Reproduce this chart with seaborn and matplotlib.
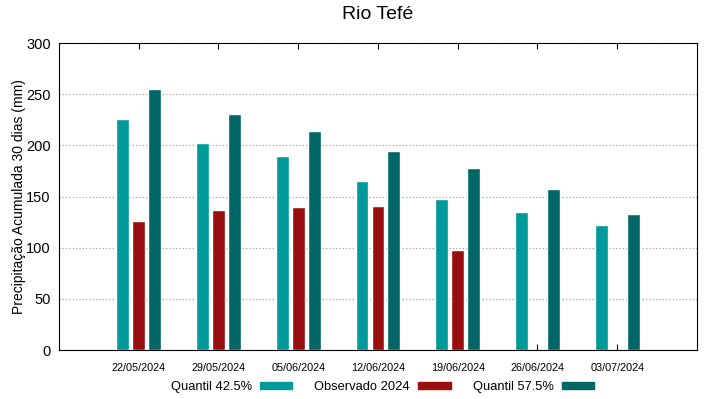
import numpy as np
import pandas as pd
import seaborn as sns
import matplotlib.pyplot as plt
from matplotlib.patches import Rectangle

datas = ['22/05/2024', '29/05/2024', '05/06/2024', '12/06/2024',
         '19/06/2024', '26/06/2024', '03/07/2024']
quantil_425 = [226, 202, 190, 165, 148, 135, 122]
observado_2024 = [126, 137, 140, 141, 98, np.nan, np.nan]
quantil_575 = [255, 231, 214, 194, 178, 157, 133]

series = ['Quantil 42.5%', 'Observado 2024', 'Quantil 57.5%']
cores = ['#009999', '#990f0f', '#006666']

df = pd.DataFrame({
    'data': datas * 3,
    'valor': quantil_425 + observado_2024 + quantil_575,
    'serie': [s for s in series for _ in datas],
})

sns.set_style('white')
plt.rcParams['font.family'] = ['Liberation Sans', 'DejaVu Sans']
plt.rcParams['text.color'] = 'black'
plt.rcParams['axes.labelcolor'] = 'black'
plt.rcParams['xtick.color'] = 'black'
plt.rcParams['ytick.color'] = 'black'

fig = plt.figure(figsize=(7.19, 3.99), dpi=100)
ax = fig.add_axes([0.082, 0.1228, 0.8874, 0.7694])

sns.barplot(data=df, x='data', y='valor', hue='serie', order=datas,
            hue_order=series, palette=cores, width=0.6, gap=0.19,
            saturation=1, ax=ax, legend=False)

ax.set_xlim(-1, 7)
ax.set_ylim(0, 300)
ax.set_yticks(range(0, 301, 50))
ax.yaxis.grid(True, linestyle=(0, (1, 2)), color='#999999', linewidth=0.8)
ax.set_axisbelow(True)
for s in ax.spines.values():
    s.set_color('black')
    s.set_linewidth(0.8)

ax.tick_params(axis='x', labelsize=7.8, direction='in', length=4, pad=9,
               top=True, bottom=True)
ax.tick_params(axis='y', labelsize=10.5, direction='in', length=0, pad=6)
ax.set_xlabel('')
ax.set_ylabel('Precipitação Acumulada 30 dias (mm)', fontsize=10, labelpad=0)
ax.set_title('Rio Tefé', fontsize=14, pad=17)

handles = [Rectangle((0, 0), 1, 1, color=c) for c in cores]
ax.legend(handles, series, loc='center', bbox_to_anchor=(0.507, -0.12),
          ncol=3, frameon=False, markerfirst=False, fontsize=9.3,
          handlelength=2.5, handleheight=0.45, columnspacing=1.7,
          handletextpad=0.65, borderpad=0)

fig.savefig('out.png', dpi=100)
